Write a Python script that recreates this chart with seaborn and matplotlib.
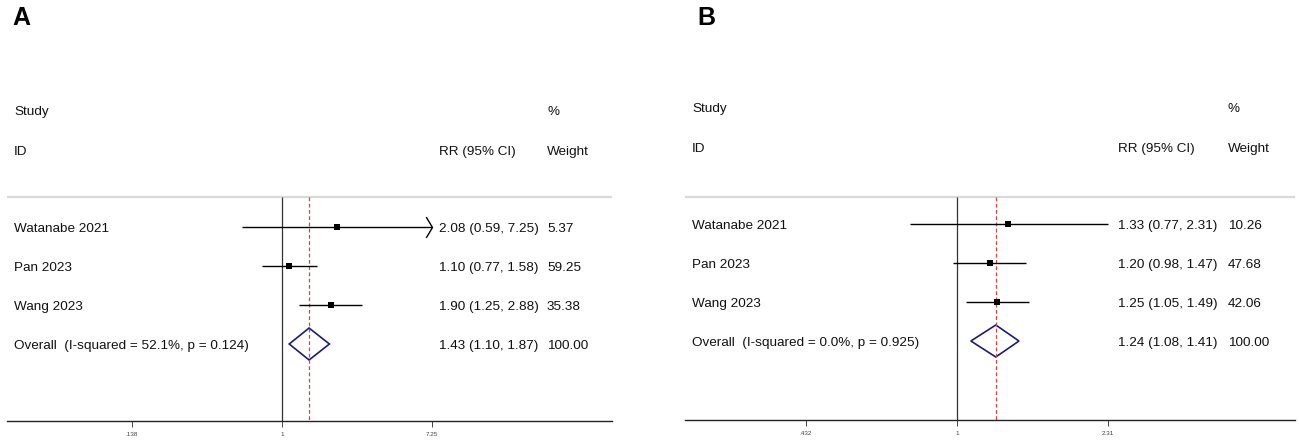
import numpy as np
import matplotlib
matplotlib.use("Agg")
import matplotlib.pyplot as plt
import seaborn as sns
from matplotlib.path import Path
from matplotlib.transforms import blended_transform_factory

# Data
studies = ["Watanabe 2021", "Pan 2023", "Wang 2023"]

# Panel A
rr_a = [2.08, 1.10, 1.90]
lo_a = [0.59, 0.77, 1.25]
hi_a = [7.25, 1.58, 2.88]
wt_a = [5.37, 59.25, 35.38]
pooled_a = [1.43, 1.10, 1.87]
overall_a = "Overall  (I-squared = 52.1%, p = 0.124)"
ticks_a = [0.138, 1, 7.25]
ticklabels_a = [".138", "1", "7.25"]

# Panel B
rr_b = [1.33, 1.20, 1.25]
lo_b = [0.77, 0.98, 1.05]
hi_b = [2.31, 1.47, 1.49]
wt_b = [10.26, 47.68, 42.06]
pooled_b = [1.24, 1.08, 1.41]
overall_b = "Overall  (I-squared = 0.0%, p = 0.925)"
ticks_b = [0.432, 1, 2.31]
ticklabels_b = [".432", "1", "2.31"]

sns.set_theme(style="white")
plt.rcParams['font.family'] = ['Liberation Sans', 'DejaVu Sans']

W, H = 1299, 446
fig = plt.figure(figsize=(W / 100, H / 100), dpi=100)

TXT = 9.7
INK = "#111111"
NAVY = "#1c1c78"
RED = "#d04545"

# open chevron used by Stata when a CI runs past the axis
chevron = Path([(-0.6, 1), (0, 0), (-0.6, -1)], [Path.MOVETO, Path.LINETO, Path.LINETO])


def draw_panel(px_left, px_right, px_one, px_max, row0, axis_px, cols, arrow,
               rr, lo, hi, wt, pooled, overall_txt, ticks, ticklabels):
    sp = 39.0
    top_row = -3.6
    bot_row = (axis_px - row0) / sp
    top_px = row0 + top_row * sp
    ax = fig.add_axes([px_left / W, 1 - axis_px / H,
                       (px_right - px_left) / W, (axis_px - top_px) / H])

    # x limits from pixel layout (log scale)
    k = (px_max - px_one) / np.log(ticks[-1])
    xmin = np.exp((px_left - px_one) / k)
    xmax = np.exp((px_right - px_one) / k)
    ax.set_xscale("log")
    ax.set_xlim(xmin, xmax)
    ax.set_ylim(bot_row, top_row)

    rows = np.arange(len(rr))
    gray_row = (196.5 - row0) / sp

    ax.axhline(gray_row, color="#d9d9d9", lw=1.6)
    ax.vlines(1, gray_row, bot_row, color="#333333", lw=0.9)
    ax.vlines(pooled[0], gray_row, bot_row, color=RED, lw=0.9, linestyles=(0, (3, 2)))

    cap = ticks[-1]
    for r, l, h in zip(rows, lo, hi):
        ax.plot([l, min(h, cap)], [r, r], color="black", lw=1.0, solid_capstyle="butt")
        if arrow and h >= cap:
            ax.plot([cap], [r], marker=chevron, markersize=15, color="black",
                    markerfacecolor="none", markeredgewidth=1.0)
    sns.scatterplot(x=rr, y=rows, ax=ax, color="black", s=16, marker="s",
                    edgecolor="black", linewidth=0, zorder=5)

    orow = len(rr)
    hd = 0.41
    ax.fill([pooled[1], pooled[0], pooled[2], pooled[0]],
            [orow, orow - hd, orow, orow + hd],
            facecolor="none", edgecolor=NAVY, lw=1.2)

    tr = blended_transform_factory(ax.transAxes, ax.transData)
    c_name, c_est, c_wt = [(c - px_left) / (px_right - px_left) for c in cols]
    kw = dict(transform=tr, fontsize=TXT, va="center", color=INK)
    dy = 0.05
    ax.text(c_name, -3 + dy, "Study", **kw)
    ax.text(c_name, -1.97 + dy, "ID", **kw)
    ax.text(c_est, -1.97 + dy, "RR (95% CI)", **kw)
    ax.text(c_wt, -3 + dy, "%", **kw)
    ax.text(c_wt, -1.97 + dy, "Weight", **kw)

    names = studies + [overall_txt]
    ests = list(zip(rr, lo, hi)) + [tuple(pooled)]
    wts = wt + [100.0]
    for r, (n, e, w) in enumerate(zip(names, ests, wts)):
        ax.text(c_name, r + dy, n, **kw)
        ax.text(c_est, r + dy, f"{e[0]:.2f} ({e[1]:.2f}, {e[2]:.2f})", **kw)
        ax.text(c_wt, r + dy, f"{w:.2f}", **kw)

    for s in ["top", "left", "right"]:
        ax.spines[s].set_visible(False)
    ax.spines["bottom"].set_color("#222222")
    ax.spines["bottom"].set_linewidth(1.0)
    ax.set_xticks(ticks)
    ax.set_xticklabels(ticklabels)
    ax.xaxis.set_minor_locator(matplotlib.ticker.NullLocator())
    ax.tick_params(axis="x", bottom=True, direction="out", length=4, width=0.7,
                   labelsize=4.6, pad=4, colors="#444444")
    ax.set_yticks([])
    ax.set_xlabel("")
    ax.set_ylabel("")
    return ax


draw_panel(7, 612, 282, 432, 227, 421, (14, 439, 547), True,
           rr_a, lo_a, hi_a, wt_a, pooled_a, overall_a, ticks_a, ticklabels_a)
draw_panel(685, 1295, 957, 1108, 224, 420, (692, 1118, 1228), False,
           rr_b, lo_b, hi_b, wt_b, pooled_b, overall_b, ticks_b, ticklabels_b)

fig.text(12 / W, 1 - 6 / H, "A", fontsize=18, fontweight="bold", va="top", color="black")
fig.text(697 / W, 1 - 6 / H, "B", fontsize=18, fontweight="bold", va="top", color="black")

fig.savefig("out.png", dpi=100)
